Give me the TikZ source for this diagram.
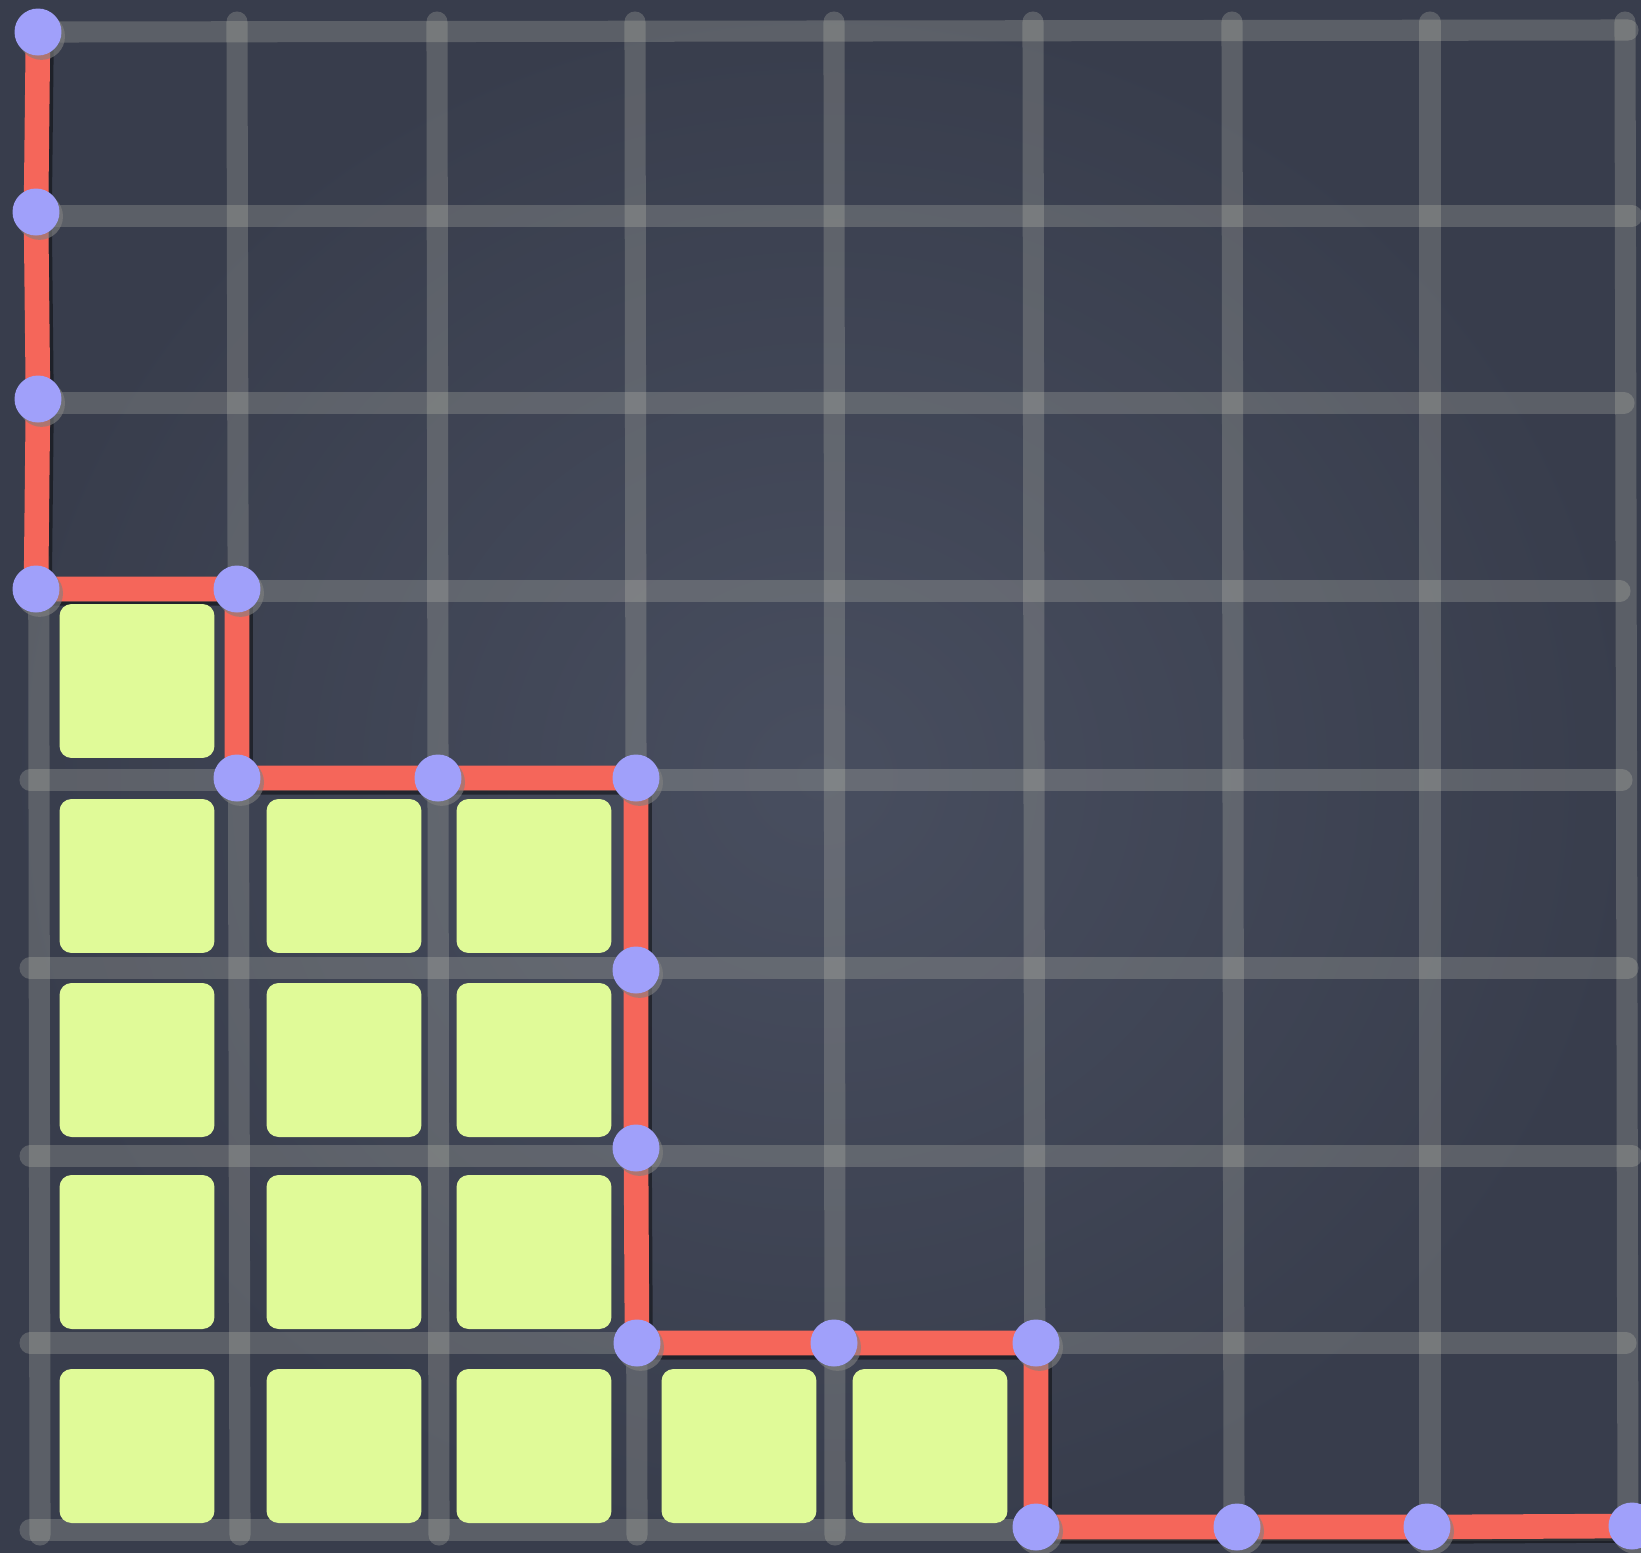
\documentclass[tikz,border=0pt]{standalone}
\usetikzlibrary{shadows,backgrounds}
\definecolor{board}{RGB}{61,66,81}
\definecolor{chalk}{RGB}{205,205,190}
\definecolor{pathred}{RGB}{245,102,90}
\definecolor{dotblue}{RGB}{160,160,250}
\definecolor{cellgreen}{RGB}{224,250,152}
\pgfdeclarelayer{board}
\pgfsetlayers{board,background,main}
\tikzset{
  gridline/.style={draw=chalk,draw opacity=0.24,line width=12pt,line cap=round},
  route/.style={draw=pathred,line width=14pt,line join=miter,
    preaction={draw=black,draw opacity=0.45,line width=14pt,transform canvas={xshift=2pt,yshift=-2.5pt}}},
  vertex/.style={circle,fill=dotblue,minimum size=0.94cm,inner sep=0pt,
    drop shadow={shadow xshift=2pt,shadow yshift=-2.5pt,opacity=0.6}},
  cellbox/.style={fill=cellgreen,rounded corners=0.24cm,minimum width=3.1cm,minimum height=3.08cm,inner sep=0pt}
}
\begin{document}
\begin{tikzpicture}[x=0.02cm,y=-0.02cm]
  \useasboundingbox (0,0) rectangle (1641,1553);

  % board and chalk grid
  \begin{pgfonlayer}{board}
  \shade[inner color={rgb,255:red,72;green,78;blue,95},outer color={rgb,255:red,56;green,61;blue,76}] (0,0) rectangle (1641,1553);
  \draw[gridline] (40,32) -- (1628,30);
  \draw[gridline] (40,216) -- (1632,216);
  \draw[gridline] (40,403) -- (1624,403);
  \draw[gridline] (40,591) -- (1620,591);
  \draw[gridline] (30,780) -- (1622,780);
  \draw[gridline] (30,968) -- (1628,968);
  \draw[gridline] (30,1156) -- (1632,1156);
  \draw[gridline] (30,1343) -- (1626,1343);
  \draw[gridline] (30,1530) -- (1630,1530);
  \draw[gridline] (38,20) -- (40,1535);
  \draw[gridline] (237,22) -- (240,1535);
  \draw[gridline] (437,22) -- (439,1535);
  \draw[gridline] (635,22) -- (637,1535);
  \draw[gridline] (834,22) -- (835,1535);
  \draw[gridline] (1033,22) -- (1035,1535);
  \draw[gridline] (1232,22) -- (1234,1535);
  \draw[gridline] (1430,22) -- (1430,1535);
  \draw[gridline] (1625,22) -- (1628,1535);
  \end{pgfonlayer}

  % squares below the staircase
  \node[cellbox] (s03) at (137,681) {};
  \node[cellbox] (s04) at (137,876) {};
  \node[cellbox] (s14) at (344,876) {};
  \node[cellbox] (s24) at (534,876) {};
  \node[cellbox] (s05) at (137,1060) {};
  \node[cellbox] (s15) at (344,1060) {};
  \node[cellbox] (s25) at (534,1060) {};
  \node[cellbox] (s06) at (137,1252) {};
  \node[cellbox] (s16) at (344,1252) {};
  \node[cellbox] (s26) at (534,1252) {};
  \node[cellbox] (s07) at (137,1446) {};
  \node[cellbox] (s17) at (344,1446) {};
  \node[cellbox] (s27) at (534,1446) {};
  \node[cellbox] (s37) at (739,1446) {};
  \node[cellbox] (s47) at (930,1446) {};

  % lattice points on the path
  \node[vertex] (d00) at (38,32) {};
  \node[vertex] (d01) at (36,212) {};
  \node[vertex] (d02) at (38,399) {};
  \node[vertex] (d03) at (36,589) {};
  \node[vertex] (d13) at (237,589) {};
  \node[vertex] (d14) at (237,778) {};
  \node[vertex] (d24) at (438,778) {};
  \node[vertex] (d34) at (636,778) {};
  \node[vertex] (d35) at (636,970) {};
  \node[vertex] (d36) at (636,1148) {};
  \node[vertex] (d37) at (637,1343) {};
  \node[vertex] (d47) at (834,1343) {};
  \node[vertex] (d57) at (1036,1343) {};
  \node[vertex] (d58) at (1036,1527) {};
  \node[vertex] (d68) at (1237,1527) {};
  \node[vertex] (d78) at (1427,1527) {};
  \node[vertex] (d88) at (1632,1526) {};

  \begin{scope}[on background layer]
  \draw[route] (d00.center) -- (d01.center) -- (d02.center) -- (d03.center)
    -- (d13.center) -- (d14.center) -- (d24.center) -- (d34.center)
    -- (d35.center) -- (d36.center) -- (d37.center)
    -- (d47.center) -- (d57.center) -- (d58.center)
    -- (d68.center) -- (d78.center) -- (d88.center);
  \end{scope}
\end{tikzpicture}
\end{document}
